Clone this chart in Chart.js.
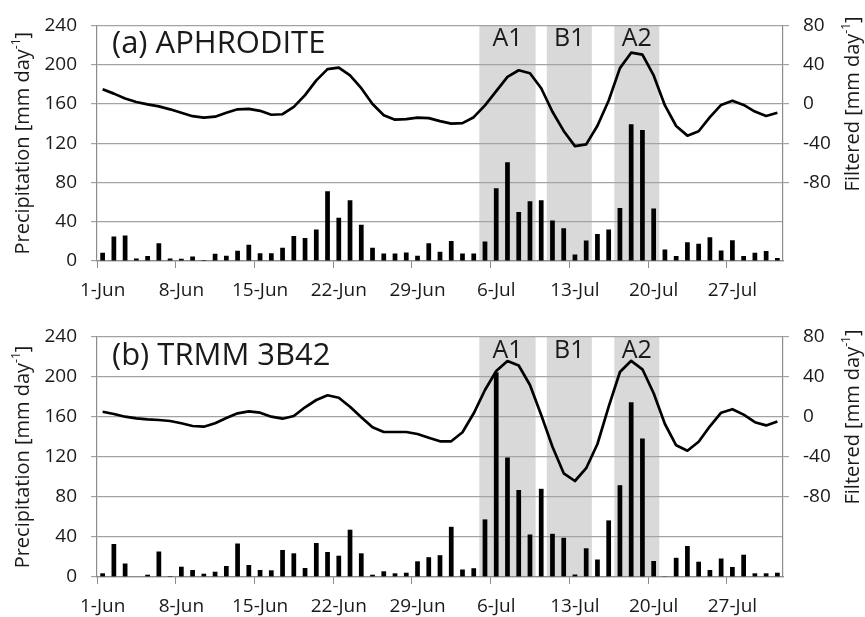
<!DOCTYPE html>
<html><head><meta charset="utf-8">
<script src="https://cdn.jsdelivr.net/npm/chart.js@4/dist/chart.umd.min.js"></script>
<style>
html,body{margin:0;padding:0;background:#fff;}
#wrap{position:relative;width:865px;height:617px;overflow:hidden;}
.pane{position:absolute;left:0;width:865px;}
</style></head><body>
<div id="wrap">
<div class="pane" style="top:0;height:300px"><canvas id="cA"></canvas></div>
<div class="pane" style="top:300px;height:317px"><canvas id="cB"></canvas></div>
</div>
<script>
// ---- data ----
const days = ['1-Jun','2-Jun','3-Jun','4-Jun','5-Jun','6-Jun','7-Jun','8-Jun','9-Jun','10-Jun',
'11-Jun','12-Jun','13-Jun','14-Jun','15-Jun','16-Jun','17-Jun','18-Jun','19-Jun','20-Jun',
'21-Jun','22-Jun','23-Jun','24-Jun','25-Jun','26-Jun','27-Jun','28-Jun','29-Jun','30-Jun',
'1-Jul','2-Jul','3-Jul','4-Jul','5-Jul','6-Jul','7-Jul','8-Jul','9-Jul','10-Jul',
'11-Jul','12-Jul','13-Jul','14-Jul','15-Jul','16-Jul','17-Jul','18-Jul','19-Jul','20-Jul',
'21-Jul','22-Jul','23-Jul','24-Jul','25-Jul','26-Jul','27-Jul','28-Jul','29-Jul','30-Jul','31-Jul'];

const precipAphrodite = [8.5,25,26,2.5,5,18,2.5,2.3,4.5,1,
7.3,5.3,10.5,16.5,8,8,13.5,25.5,23.5,32,
71,44,62,37,13.5,7.7,7.7,8.7,5.3,18,
9.5,20.5,7.7,7.7,19.8,74,100.5,50,60.8,62,
41.2,33.3,6.7,21,27.6,32,54,139.2,133.5,53.4,
11.8,5,19,17.6,24.2,10.8,21.2,5.2,8.5,10.2,3];

const filteredAphrodite = [15,10.5,5.5,2,-0.5,-2.5,-5.5,-9,-12.5,-14,
-13,-9,-5.5,-5,-7,-11,-10.5,-3,9,24,
35.5,37,29,16,0,-11.5,-16,-15.5,-14,-14.5,
-17.5,-20,-19.5,-13.5,-1.5,13,27.5,34.3,31.3,16,
-8,-27.5,-43,-41.2,-22.3,3.5,36.5,52.2,50.2,29,
-1.5,-22.5,-32.3,-27.8,-13.5,-1,3.3,-1,-7.8,-12.3,-9];

const precipTRMM = [3.7,33,13.5,0,2.3,25.5,1,10.3,7,3.3,
5.3,11,33.5,12,7,6.7,27,23.7,9,34,
25,21.3,47.3,23.7,2.3,5.7,3.7,4.3,15.7,19.8,
21.8,50.2,7.5,8.8,57.6,204.8,119.5,87,42.5,88.2,
43.2,39.2,2.5,28.7,17.5,56.6,91.8,174.7,138.5,16,
0.4,19.2,31,15.3,7,18.5,10,22.3,3.7,3.7,4.3];

const filteredTRMM = [5.3,3,0.3,-1.3,-2.3,-3,-4,-6.3,-9,-9.7,
-6.3,-1,3.7,5.7,4.3,0.3,-1.7,1,9.7,17,
21.7,19.3,10.3,-0.3,-10.3,-15,-15,-15,-17,-20.7,
-24.3,-24.3,-15.3,3.7,27,46,56,51.5,32,2,
-29.7,-56.3,-64,-51.2,-27,10.3,45,56.2,47.7,23.7,
-7,-28.3,-33.7,-24.7,-9.3,4.3,7.8,2.4,-5.2,-8.4,-4.4];

const leftTicks = [0,40,80,120,160,200,240];
const rightTickLabels = [-80,-40,0,40,80];

const bandLabels = ['A1','B1','A2'];
const bandStart  = [34,40,46];   // category index of first shaded day
const bandEnd    = [38,43,49];   // category index of last shaded day

// ---- styling ----
const FONT = '"Open Sans", "Noto Sans", sans-serif';
const TXT = '#1a1a1a';
const GRID = '#a3a3a3';
const AXIS = '#8c8c8c';

function drawRotated(ctx, cx, cy, main, sup, tail, size) {
  ctx.save();
  ctx.translate(cx, cy);
  ctx.rotate(-Math.PI / 2);
  ctx.fillStyle = TXT;
  ctx.textBaseline = 'middle';
  ctx.textAlign = 'left';
  const fMain = size + 'px ' + FONT;
  const fSup = Math.round(size * 0.62) + 'px ' + FONT;
  ctx.font = fMain; const w1 = ctx.measureText(main).width; const w3 = ctx.measureText(tail).width;
  ctx.font = fSup; const w2 = ctx.measureText(sup).width;
  let x = -(w1 + w2 + w3) / 2;
  ctx.font = fMain; ctx.fillText(main, x, 0); x += w1;
  ctx.font = fSup; ctx.fillText(sup, x, -size * 0.33); x += w2;
  ctx.font = fMain; ctx.fillText(tail, x, 0);
  ctx.restore();
}

function decor(panelTitle) {
  return {
    id: 'decor',
    beforeDraw(chart) {
      const { ctx, chartArea, scales } = chart;
      const x = scales.x;
      const half = (x.getPixelForValue(1) - x.getPixelForValue(0)) / 2;
      ctx.save();
      ctx.fillStyle = '#d9d9d9';
      for (let k = 0; k < bandLabels.length; k++) {
        const x0 = x.getPixelForValue(bandStart[k]) - half;
        const x1 = x.getPixelForValue(bandEnd[k]) + half;
        ctx.fillRect(x0, chartArea.top, x1 - x0, chartArea.bottom - chartArea.top);
      }
      ctx.restore();
    },
    afterDraw(chart) {
      const { ctx, chartArea, scales } = chart;
      const x = scales.x;
      const half = (x.getPixelForValue(1) - x.getPixelForValue(0)) / 2;
      ctx.save();
      ctx.fillStyle = TXT;
      ctx.textBaseline = 'alphabetic';
      ctx.textAlign = 'center';
      ctx.font = '25px ' + FONT;
      for (let k = 0; k < bandLabels.length; k++) {
        const x0 = x.getPixelForValue(bandStart[k]) - half;
        const x1 = x.getPixelForValue(bandEnd[k]) + half;
        ctx.fillText(bandLabels[k], (x0 + x1) / 2, chartArea.top + 21);
      }
      ctx.textAlign = 'left';
      ctx.font = '31px ' + FONT;
      ctx.fillText(panelTitle, chartArea.left + 15, chartArea.top + 28);
      ctx.restore();
      drawRotated(ctx, 23, (chartArea.top + chartArea.bottom) / 2, 'Precipitation [mm day', '-1', ']', 20);
      const y2 = scales.y2;
      drawRotated(ctx, 853, (y2.getPixelForValue(80) + y2.getPixelForValue(-80)) / 2, 'Filtered [mm day', '-1', ']', 20);
    }
  };
}

function makeChart(id, precip, filtered, title, padTop, xHeight) {
  return new Chart(document.getElementById(id), {
    data: {
      labels: days,
      datasets: [
        { type: 'line', data: filtered, yAxisID: 'y2', borderColor: '#000', borderWidth: 2.7,
          pointRadius: 0, tension: 0, borderJoinStyle: 'round', order: 1 },
        { type: 'bar', data: precip, yAxisID: 'y', backgroundColor: '#000',
          barPercentage: 0.42, categoryPercentage: 1, order: 2 }
      ]
    },
    options: {
      responsive: true, maintainAspectRatio: false, animation: false,
      layout: { padding: { top: padTop, left: 0, right: 0, bottom: 0 } },
      plugins: { legend: { display: false }, tooltip: { enabled: false } },
      scales: {
        x: {
          type: 'category', offset: true,
          grid: { offset: true, drawOnChartArea: false, drawTicks: true, tickLength: 7,
                  color: (c) => (c.index % 7 === 0 ? AXIS : 'rgba(0,0,0,0)'), lineWidth: 1 },
          border: { color: AXIS, width: 1.2 },
          ticks: { autoSkip: false, maxRotation: 0, minRotation: 0, padding: 11, color: TXT,
                   font: { family: FONT, size: 19 },
                   callback: (v, i) => (i % 7 === 0 ? days[i] : '') },
          afterFit: (s) => { s.height = xHeight; }
        },
        y: {
          position: 'left', min: 0, max: 240,
          afterBuildTicks: (s) => { s.ticks = leftTicks.map(v => ({ value: v })); },
          grid: { color: GRID, lineWidth: 1.2, tickLength: 6 },
          border: { color: AXIS, width: 1.2 },
          ticks: { padding: 14, color: TXT, font: { family: FONT, size: 19 } },
          afterFit: (s) => { s.width = 97; }
        },
        y2: {
          position: 'right', min: -160, max: 80,
          afterBuildTicks: (s) => { s.ticks = rightTickLabels.map(v => ({ value: v })); },
          grid: { drawOnChartArea: false, color: GRID, lineWidth: 1.2, tickLength: 6 },
          border: { color: AXIS, width: 1.2 },
          ticks: { padding: 14, color: TXT, font: { family: FONT, size: 19 } },
          afterFit: (s) => { s.width = 82; }
        }
      }
    },
    plugins: [decor(title)]
  });
}

makeChart('cA', precipAphrodite, filteredAphrodite, '(a) APHRODITE', 20, 39);
makeChart('cB', precipTRMM, filteredTRMM, '(b) TRMM 3B42', 37, 40);
</script>
</body></html>
